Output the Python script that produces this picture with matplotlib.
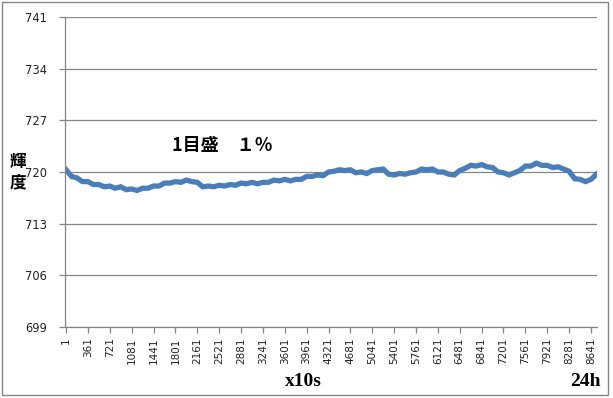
import matplotlib
matplotlib.use("Agg")
import matplotlib.pyplot as plt
from matplotlib.patches import Rectangle

# x positions (samples, 10 s each) and luminance values
x_samples = [1 + 90 * i for i in range(98)]
luminance = [
    720.3, 719.4, 719.2, 718.7, 718.7, 718.3, 718.3, 718.0, 718.1, 717.8,
    718.0, 717.6, 717.7, 717.5, 717.8, 717.8, 718.1, 718.1, 718.5, 718.5,
    718.7, 718.6, 718.9, 718.7, 718.6, 718.0, 718.1, 718.0, 718.2, 718.1,
    718.3, 718.2, 718.5, 718.4, 718.6, 718.4, 718.6, 718.6, 718.9, 718.8,
    719.0, 718.8, 719.0, 719.0, 719.4, 719.4, 719.6, 719.5, 720.0, 720.1,
    720.3, 720.2, 720.3, 719.9, 720.0, 719.8, 720.2, 720.3, 720.4, 719.7,
    719.6, 719.8, 719.7, 719.9, 720.0, 720.4, 720.3, 720.4, 720.0, 720.0,
    719.7, 719.6, 720.2, 720.5, 720.9, 720.8, 721.0, 720.7, 720.6, 720.0,
    719.9, 719.6, 719.9, 720.2, 720.8, 720.8, 721.2, 720.9, 720.9, 720.6,
    720.7, 720.4, 720.1, 719.1, 719.0, 718.7, 719.0, 719.7,
]

y_ticks = [699, 706, 713, 720, 727, 734, 741]
x_ticks = [1 + 360 * k for k in range(25)]
x_tick_labels = [str(v) for v in x_ticks]

fig = plt.figure(figsize=(6.13, 3.98), dpi=100)
ax = fig.add_axes([65 / 613, 1 - 327 / 398, (597 - 65) / 613, (327 - 17) / 398])

ax.plot(x_samples, luminance, color="#4A7EBB", linewidth=3.8, solid_joinstyle="miter")

ax.set_ylim(699, 741)
ax.set_yticks(y_ticks)
ax.set_yticklabels([str(v) for v in y_ticks], fontsize=8.3, color="#222222")
ax.set_xlim(-16, 8740)
ax.set_xticks(x_ticks)
ax.set_xticklabels(x_tick_labels, rotation=90, fontsize=7.5, color="#222222")

ax.grid(axis="y", color="#868686", linewidth=0.9)
ax.set_axisbelow(True)
for s in ["top", "right"]:
    ax.spines[s].set_visible(False)
for s in ["left", "bottom"]:
    ax.spines[s].set_color("#868686")
    ax.spines[s].set_linewidth(0.9)
ax.tick_params(axis="both", colors="#868686", labelcolor="#222222", length=4, width=0.9)
ax.tick_params(axis="y", pad=9)

# annotations
cjk = ["Noto Sans CJK JP", "DejaVu Sans"]
fig.text(18 / 613, 1 - 172 / 398, "輝\n度", fontsize=12, fontweight="bold",
         family=cjk, ha="center", va="center", linespacing=1.15)
fig.text(172 / 613, 1 - 145 / 398, "1目盛　１％", fontsize=13, fontweight="bold",
         family=cjk, ha="left", va="center")
fig.text(303 / 613, 1 - 381 / 398, "x10s", fontsize=14, fontweight="bold",
         family=["Liberation Serif", "DejaVu Serif"], ha="center", va="center")
fig.text(585 / 613, 1 - 381 / 398, "24h", fontsize=14, fontweight="bold",
         family=["Liberation Serif", "DejaVu Serif"], ha="center", va="center")

fig.patches.append(Rectangle((2 / 613, 3 / 398), 606 / 613, 393 / 398, transform=fig.transFigure,
                             fill=False, edgecolor="#868686", linewidth=1.0))

fig.savefig("out.png", dpi=100)
